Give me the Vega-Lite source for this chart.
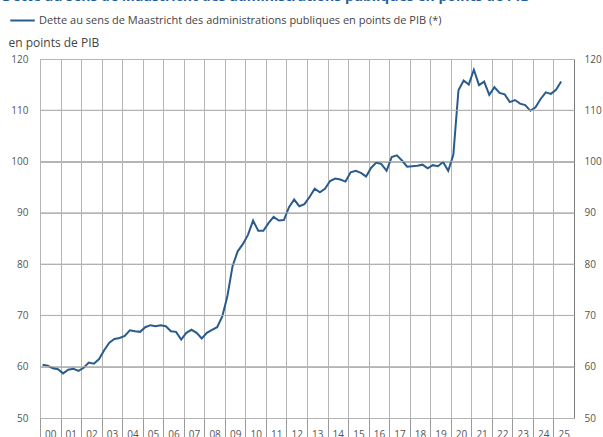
{
  "$schema": "https://vega.github.io/schema/vega-lite/v6.json",
  "width": 534,
  "height": 359,
  "autosize": {"type": "none"},
  "padding": {"left": 40, "top": 59, "right": 29, "bottom": 19},
  "background": "white",
  "config": {
    "view": {"stroke": "#7a7a7a", "strokeWidth": 1},
    "font": "Open Sans",
    "axis": {"gridColor": "#b5b5b5", "gridWidth": 1, "gridOpacity": 1}
  },
  "title": {
    "text": "Dette au sens de Maastricht des administrations publiques en points de PIB",
    "anchor": "start",
    "frame": "group",
    "fontSize": 14,
    "fontWeight": "bold",
    "color": "#1f5f9f",
    "dx": -38,
    "dy": 1
  },
  "datasets": {
    "grille": [{"niveau": 60}, {"niveau": 70}, {"niveau": 80}, {"niveau": 90}, {"niveau": 100}, {"niveau": 110}]
  },
  "data": {
    "values": [
      {"annee": 2000.125, "dette": 60.4, "serie": "Dette au sens de Maastricht des administrations publiques en points de PIB (*)"},
      {"annee": 2000.375, "dette": 60.2, "serie": "Dette au sens de Maastricht des administrations publiques en points de PIB (*)"},
      {"annee": 2000.625, "dette": 59.7, "serie": "Dette au sens de Maastricht des administrations publiques en points de PIB (*)"},
      {"annee": 2000.875, "dette": 59.5, "serie": "Dette au sens de Maastricht des administrations publiques en points de PIB (*)"},
      {"annee": 2001.125, "dette": 58.7, "serie": "Dette au sens de Maastricht des administrations publiques en points de PIB (*)"},
      {"annee": 2001.375, "dette": 59.4, "serie": "Dette au sens de Maastricht des administrations publiques en points de PIB (*)"},
      {"annee": 2001.625, "dette": 59.6, "serie": "Dette au sens de Maastricht des administrations publiques en points de PIB (*)"},
      {"annee": 2001.875, "dette": 59.2, "serie": "Dette au sens de Maastricht des administrations publiques en points de PIB (*)"},
      {"annee": 2002.125, "dette": 59.8, "serie": "Dette au sens de Maastricht des administrations publiques en points de PIB (*)"},
      {"annee": 2002.375, "dette": 60.8, "serie": "Dette au sens de Maastricht des administrations publiques en points de PIB (*)"},
      {"annee": 2002.625, "dette": 60.6, "serie": "Dette au sens de Maastricht des administrations publiques en points de PIB (*)"},
      {"annee": 2002.875, "dette": 61.5, "serie": "Dette au sens de Maastricht des administrations publiques en points de PIB (*)"},
      {"annee": 2003.125, "dette": 63.2, "serie": "Dette au sens de Maastricht des administrations publiques en points de PIB (*)"},
      {"annee": 2003.375, "dette": 64.7, "serie": "Dette au sens de Maastricht des administrations publiques en points de PIB (*)"},
      {"annee": 2003.625, "dette": 65.4, "serie": "Dette au sens de Maastricht des administrations publiques en points de PIB (*)"},
      {"annee": 2003.875, "dette": 65.6, "serie": "Dette au sens de Maastricht des administrations publiques en points de PIB (*)"},
      {"annee": 2004.125, "dette": 66.0, "serie": "Dette au sens de Maastricht des administrations publiques en points de PIB (*)"},
      {"annee": 2004.375, "dette": 67.1, "serie": "Dette au sens de Maastricht des administrations publiques en points de PIB (*)"},
      {"annee": 2004.625, "dette": 66.9, "serie": "Dette au sens de Maastricht des administrations publiques en points de PIB (*)"},
      {"annee": 2004.875, "dette": 66.8, "serie": "Dette au sens de Maastricht des administrations publiques en points de PIB (*)"},
      {"annee": 2005.125, "dette": 67.7, "serie": "Dette au sens de Maastricht des administrations publiques en points de PIB (*)"},
      {"annee": 2005.375, "dette": 68.1, "serie": "Dette au sens de Maastricht des administrations publiques en points de PIB (*)"},
      {"annee": 2005.625, "dette": 67.9, "serie": "Dette au sens de Maastricht des administrations publiques en points de PIB (*)"},
      {"annee": 2005.875, "dette": 68.1, "serie": "Dette au sens de Maastricht des administrations publiques en points de PIB (*)"},
      {"annee": 2006.125, "dette": 67.9, "serie": "Dette au sens de Maastricht des administrations publiques en points de PIB (*)"},
      {"annee": 2006.375, "dette": 66.9, "serie": "Dette au sens de Maastricht des administrations publiques en points de PIB (*)"},
      {"annee": 2006.625, "dette": 66.8, "serie": "Dette au sens de Maastricht des administrations publiques en points de PIB (*)"},
      {"annee": 2006.875, "dette": 65.3, "serie": "Dette au sens de Maastricht des administrations publiques en points de PIB (*)"},
      {"annee": 2007.125, "dette": 66.6, "serie": "Dette au sens de Maastricht des administrations publiques en points de PIB (*)"},
      {"annee": 2007.375, "dette": 67.2, "serie": "Dette au sens de Maastricht des administrations publiques en points de PIB (*)"},
      {"annee": 2007.625, "dette": 66.6, "serie": "Dette au sens de Maastricht des administrations publiques en points de PIB (*)"},
      {"annee": 2007.875, "dette": 65.5, "serie": "Dette au sens de Maastricht des administrations publiques en points de PIB (*)"},
      {"annee": 2008.125, "dette": 66.6, "serie": "Dette au sens de Maastricht des administrations publiques en points de PIB (*)"},
      {"annee": 2008.375, "dette": 67.2, "serie": "Dette au sens de Maastricht des administrations publiques en points de PIB (*)"},
      {"annee": 2008.625, "dette": 67.7, "serie": "Dette au sens de Maastricht des administrations publiques en points de PIB (*)"},
      {"annee": 2008.875, "dette": 69.8, "serie": "Dette au sens de Maastricht des administrations publiques en points de PIB (*)"},
      {"annee": 2009.125, "dette": 73.8, "serie": "Dette au sens de Maastricht des administrations publiques en points de PIB (*)"},
      {"annee": 2009.375, "dette": 79.6, "serie": "Dette au sens de Maastricht des administrations publiques en points de PIB (*)"},
      {"annee": 2009.625, "dette": 82.5, "serie": "Dette au sens de Maastricht des administrations publiques en points de PIB (*)"},
      {"annee": 2009.875, "dette": 83.9, "serie": "Dette au sens de Maastricht des administrations publiques en points de PIB (*)"},
      {"annee": 2010.125, "dette": 85.7, "serie": "Dette au sens de Maastricht des administrations publiques en points de PIB (*)"},
      {"annee": 2010.375, "dette": 88.5, "serie": "Dette au sens de Maastricht des administrations publiques en points de PIB (*)"},
      {"annee": 2010.625, "dette": 86.5, "serie": "Dette au sens de Maastricht des administrations publiques en points de PIB (*)"},
      {"annee": 2010.875, "dette": 86.5, "serie": "Dette au sens de Maastricht des administrations publiques en points de PIB (*)"},
      {"annee": 2011.125, "dette": 88.0, "serie": "Dette au sens de Maastricht des administrations publiques en points de PIB (*)"},
      {"annee": 2011.375, "dette": 89.2, "serie": "Dette au sens de Maastricht des administrations publiques en points de PIB (*)"},
      {"annee": 2011.625, "dette": 88.5, "serie": "Dette au sens de Maastricht des administrations publiques en points de PIB (*)"},
      {"annee": 2011.875, "dette": 88.6, "serie": "Dette au sens de Maastricht des administrations publiques en points de PIB (*)"},
      {"annee": 2012.125, "dette": 91.1, "serie": "Dette au sens de Maastricht des administrations publiques en points de PIB (*)"},
      {"annee": 2012.375, "dette": 92.6, "serie": "Dette au sens de Maastricht des administrations publiques en points de PIB (*)"},
      {"annee": 2012.625, "dette": 91.3, "serie": "Dette au sens de Maastricht des administrations publiques en points de PIB (*)"},
      {"annee": 2012.875, "dette": 91.7, "serie": "Dette au sens de Maastricht des administrations publiques en points de PIB (*)"},
      {"annee": 2013.125, "dette": 93.1, "serie": "Dette au sens de Maastricht des administrations publiques en points de PIB (*)"},
      {"annee": 2013.375, "dette": 94.7, "serie": "Dette au sens de Maastricht des administrations publiques en points de PIB (*)"},
      {"annee": 2013.625, "dette": 94.0, "serie": "Dette au sens de Maastricht des administrations publiques en points de PIB (*)"},
      {"annee": 2013.875, "dette": 94.7, "serie": "Dette au sens de Maastricht des administrations publiques en points de PIB (*)"},
      {"annee": 2014.125, "dette": 96.2, "serie": "Dette au sens de Maastricht des administrations publiques en points de PIB (*)"},
      {"annee": 2014.375, "dette": 96.7, "serie": "Dette au sens de Maastricht des administrations publiques en points de PIB (*)"},
      {"annee": 2014.625, "dette": 96.5, "serie": "Dette au sens de Maastricht des administrations publiques en points de PIB (*)"},
      {"annee": 2014.875, "dette": 96.1, "serie": "Dette au sens de Maastricht des administrations publiques en points de PIB (*)"},
      {"annee": 2015.125, "dette": 97.9, "serie": "Dette au sens de Maastricht des administrations publiques en points de PIB (*)"},
      {"annee": 2015.375, "dette": 98.2, "serie": "Dette au sens de Maastricht des administrations publiques en points de PIB (*)"},
      {"annee": 2015.625, "dette": 97.8, "serie": "Dette au sens de Maastricht des administrations publiques en points de PIB (*)"},
      {"annee": 2015.875, "dette": 97.1, "serie": "Dette au sens de Maastricht des administrations publiques en points de PIB (*)"},
      {"annee": 2016.125, "dette": 98.8, "serie": "Dette au sens de Maastricht des administrations publiques en points de PIB (*)"},
      {"annee": 2016.375, "dette": 99.8, "serie": "Dette au sens de Maastricht des administrations publiques en points de PIB (*)"},
      {"annee": 2016.625, "dette": 99.5, "serie": "Dette au sens de Maastricht des administrations publiques en points de PIB (*)"},
      {"annee": 2016.875, "dette": 98.2, "serie": "Dette au sens de Maastricht des administrations publiques en points de PIB (*)"},
      {"annee": 2017.125, "dette": 100.9, "serie": "Dette au sens de Maastricht des administrations publiques en points de PIB (*)"},
      {"annee": 2017.375, "dette": 101.2, "serie": "Dette au sens de Maastricht des administrations publiques en points de PIB (*)"},
      {"annee": 2017.625, "dette": 100.2, "serie": "Dette au sens de Maastricht des administrations publiques en points de PIB (*)"},
      {"annee": 2017.875, "dette": 99.0, "serie": "Dette au sens de Maastricht des administrations publiques en points de PIB (*)"},
      {"annee": 2018.125, "dette": 99.1, "serie": "Dette au sens de Maastricht des administrations publiques en points de PIB (*)"},
      {"annee": 2018.375, "dette": 99.2, "serie": "Dette au sens de Maastricht des administrations publiques en points de PIB (*)"},
      {"annee": 2018.625, "dette": 99.4, "serie": "Dette au sens de Maastricht des administrations publiques en points de PIB (*)"},
      {"annee": 2018.875, "dette": 98.7, "serie": "Dette au sens de Maastricht des administrations publiques en points de PIB (*)"},
      {"annee": 2019.125, "dette": 99.3, "serie": "Dette au sens de Maastricht des administrations publiques en points de PIB (*)"},
      {"annee": 2019.375, "dette": 99.1, "serie": "Dette au sens de Maastricht des administrations publiques en points de PIB (*)"},
      {"annee": 2019.625, "dette": 99.9, "serie": "Dette au sens de Maastricht des administrations publiques en points de PIB (*)"},
      {"annee": 2019.875, "dette": 98.2, "serie": "Dette au sens de Maastricht des administrations publiques en points de PIB (*)"},
      {"annee": 2020.125, "dette": 101.3, "serie": "Dette au sens de Maastricht des administrations publiques en points de PIB (*)"},
      {"annee": 2020.375, "dette": 113.9, "serie": "Dette au sens de Maastricht des administrations publiques en points de PIB (*)"},
      {"annee": 2020.625, "dette": 115.8, "serie": "Dette au sens de Maastricht des administrations publiques en points de PIB (*)"},
      {"annee": 2020.875, "dette": 115.0, "serie": "Dette au sens de Maastricht des administrations publiques en points de PIB (*)"},
      {"annee": 2021.125, "dette": 117.9, "serie": "Dette au sens de Maastricht des administrations publiques en points de PIB (*)"},
      {"annee": 2021.375, "dette": 114.9, "serie": "Dette au sens de Maastricht des administrations publiques en points de PIB (*)"},
      {"annee": 2021.625, "dette": 115.6, "serie": "Dette au sens de Maastricht des administrations publiques en points de PIB (*)"},
      {"annee": 2021.875, "dette": 113.0, "serie": "Dette au sens de Maastricht des administrations publiques en points de PIB (*)"},
      {"annee": 2022.125, "dette": 114.5, "serie": "Dette au sens de Maastricht des administrations publiques en points de PIB (*)"},
      {"annee": 2022.375, "dette": 113.4, "serie": "Dette au sens de Maastricht des administrations publiques en points de PIB (*)"},
      {"annee": 2022.625, "dette": 113.1, "serie": "Dette au sens de Maastricht des administrations publiques en points de PIB (*)"},
      {"annee": 2022.875, "dette": 111.6, "serie": "Dette au sens de Maastricht des administrations publiques en points de PIB (*)"},
      {"annee": 2023.125, "dette": 112.0, "serie": "Dette au sens de Maastricht des administrations publiques en points de PIB (*)"},
      {"annee": 2023.375, "dette": 111.3, "serie": "Dette au sens de Maastricht des administrations publiques en points de PIB (*)"},
      {"annee": 2023.625, "dette": 111.0, "serie": "Dette au sens de Maastricht des administrations publiques en points de PIB (*)"},
      {"annee": 2023.875, "dette": 109.9, "serie": "Dette au sens de Maastricht des administrations publiques en points de PIB (*)"},
      {"annee": 2024.125, "dette": 110.6, "serie": "Dette au sens de Maastricht des administrations publiques en points de PIB (*)"},
      {"annee": 2024.375, "dette": 112.2, "serie": "Dette au sens de Maastricht des administrations publiques en points de PIB (*)"},
      {"annee": 2024.625, "dette": 113.5, "serie": "Dette au sens de Maastricht des administrations publiques en points de PIB (*)"},
      {"annee": 2024.875, "dette": 113.2, "serie": "Dette au sens de Maastricht des administrations publiques en points de PIB (*)"},
      {"annee": 2025.125, "dette": 114.0, "serie": "Dette au sens de Maastricht des administrations publiques en points de PIB (*)"},
      {"annee": 2025.375, "dette": 115.6, "serie": "Dette au sens de Maastricht des administrations publiques en points de PIB (*)"}
    ]
  },
  "layer": [
    {
      "mark": {"type": "line", "strokeWidth": 2, "interpolate": "linear"},
      "encoding": {
        "x": {
          "field": "annee",
          "type": "quantitative",
          "scale": {"domain": [2000, 2026], "nice": false, "zero": false},
          "axis": {
            "title": null,
            "values": [2000, 2001, 2002, 2003, 2004, 2005, 2006, 2007, 2008, 2009, 2010, 2011, 2012, 2013, 2014, 2015, 2016, 2017, 2018, 2019, 2020, 2021, 2022, 2023, 2024, 2025],
            "labelExpr": "(datum.value % 100 < 10 ? '0' : '') + (datum.value % 100)",
            "labelOffset": 10.3,
            "labelAlign": "center",
            "labelFlush": false,
            "labelOverlap": false,
            "labelBound": false,
            "labelFontSize": 10,
            "labelColor": "#555555",
            "labelPadding": -8,
            "tickSize": 19,
            "tickColor": "#9a9a9a",
            "domain": false,
            "grid": true
          }
        },
        "y": {
          "field": "dette",
          "type": "quantitative",
          "scale": {"domain": [50, 120], "nice": false, "zero": false},
          "axis": {
            "values": [50, 60, 70, 80, 90, 100, 110, 120],
            "title": "en points de PIB",
            "titleAngle": 0,
            "titleX": -32,
            "titleY": -17,
            "titleAlign": "left",
            "titleBaseline": "middle",
            "titleFontWeight": "normal",
            "titleFontSize": 12,
            "titleColor": "#444444",
            "tickSize": 0,
            "domain": false,
            "grid": true,
            "labelPadding": 12,
            "labelFontSize": 10,
            "labelColor": "#555555"
          }
        },
        "color": {
          "field": "serie",
          "type": "nominal",
          "scale": {"range": ["#2a5b8b"]},
          "legend": {
            "orient": "none",
            "legendX": -31,
            "legendY": -52,
            "title": null,
            "symbolType": "stroke",
            "symbolSize": 600,
            "symbolStrokeWidth": 2,
            "labelFontSize": 11,
            "labelColor": "#444444",
            "labelLimit": 600,
            "labelOffset": 3
          }
        }
      }
    },
    {
      "mark": {"type": "line", "opacity": 0},
      "encoding": {
        "x": {"field": "annee", "type": "quantitative", "axis": null},
        "y": {
          "field": "dette",
          "type": "quantitative",
          "axis": {
            "orient": "right",
            "values": [50, 60, 70, 80, 90, 100, 110, 120],
            "title": null,
            "tickSize": 0,
            "domain": false,
            "grid": false,
            "labelPadding": 10,
            "labelFontSize": 10,
            "labelColor": "#555555"
          }
        }
      }
    },
    {
      "data": {"name": "grille"},
      "mark": {"type": "rule", "color": "#b0b0b0", "strokeWidth": 1, "orient": "horizontal"},
      "encoding": {
        "x": {"datum": 2000, "type": "quantitative", "axis": null},
        "x2": {"datum": 2026},
        "y": {"field": "niveau", "type": "quantitative", "axis": null}
      }
    }
  ],
  "resolve": {"axis": {"x": "independent", "y": "independent"}}
}
